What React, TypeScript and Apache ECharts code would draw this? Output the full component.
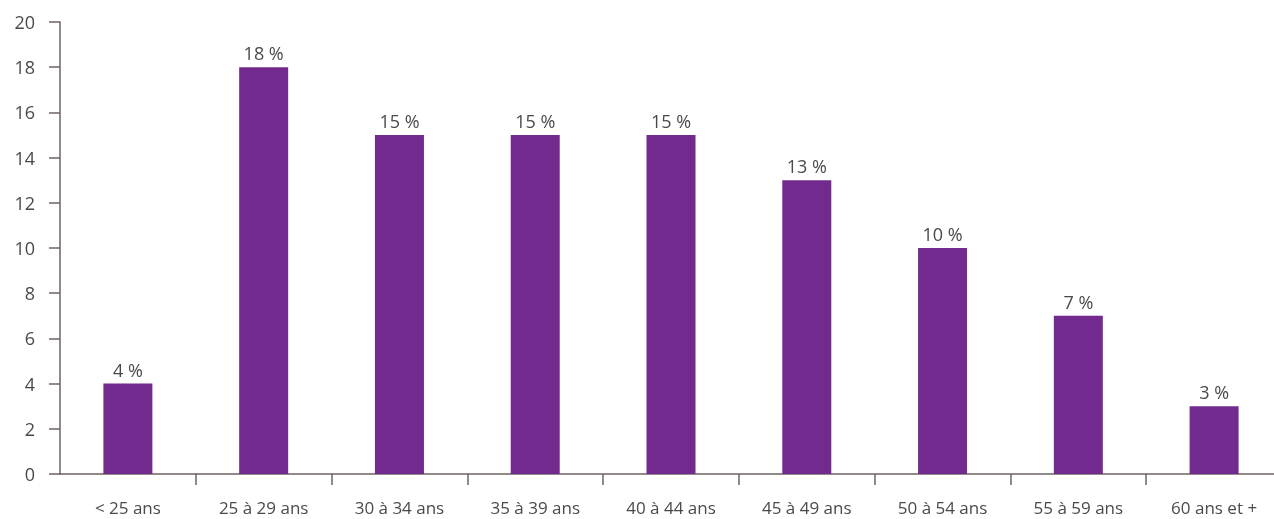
import React, { useEffect, useRef } from "react";
import * as echarts from "echarts";

// Répartition par tranche d'âge (en %)
const categories = [
  "< 25 ans",
  "25 à 29 ans",
  "30 à 34 ans",
  "35 à 39 ans",
  "40 à 44 ans",
  "45 à 49 ans",
  "50 à 54 ans",
  "55 à 59 ans",
  "60 ans et +",
];
const values = [4, 18, 15, 15, 15, 13, 10, 7, 3];
const yMin = 0;
const yMax = 20;
const yStep = 2;

const FONT = "'Open Sans', Lato, sans-serif";
const TEXT = "#4a4a4a";
const AXIS = "#6e6262";
const BAR = "#722a8e";

export default function App() {
  const ref = useRef<HTMLDivElement>(null);

  useEffect(() => {
    if (!ref.current) return;
    const chart = echarts.init(ref.current, null, { renderer: "svg" });
    chart.setOption({
      animation: false,
      grid: { left: 60, right: 0, top: 22, bottom: 45, containLabel: false },
      xAxis: {
        type: "category",
        data: categories,
        axisLine: { lineStyle: { color: AXIS, width: 1.5 } },
        axisTick: {
          show: true,
          length: 11,
          // no tick under the corner where the two axes meet
          interval: (index: number) => index > 0,
          lineStyle: { color: AXIS, width: 1.5 },
        },
        axisLabel: {
          color: TEXT,
          fontFamily: FONT,
          fontSize: 17,
          lineHeight: 17,
          margin: 25,
          interval: 0,
        },
      },
      yAxis: {
        type: "value",
        min: yMin,
        max: yMax,
        interval: yStep,
        axisLine: { show: true, lineStyle: { color: AXIS, width: 1.5 } },
        axisTick: { show: true, length: 11, lineStyle: { color: AXIS, width: 1.5 } },
        splitLine: { show: false },
        axisLabel: {
          color: TEXT,
          fontFamily: FONT,
          fontSize: 18,
          margin: 25,
        },
      },
      series: [
        {
          type: "bar",
          data: values,
          barWidth: 49,
          itemStyle: { color: BAR },
          label: {
            show: true,
            position: "top",
            distance: 5,
            color: TEXT,
            fontFamily: FONT,
            fontSize: 18,
            formatter: (p: any) => `${p.value} %`,
          },
        },
      ],
    });
    return () => chart.dispose();
  }, []);

  return (
    <div
      ref={ref}
      style={{ position: "fixed", left: 0, top: 0, width: 1282, height: 519 }}
    />
  );
}
